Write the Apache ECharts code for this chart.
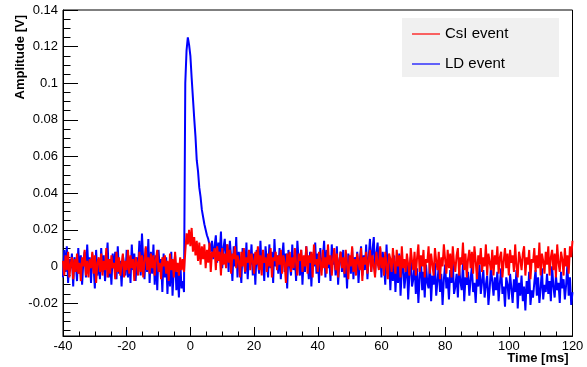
<!DOCTYPE html>
<html><head><meta charset="utf-8">
<script src="https://cdn.jsdelivr.net/npm/echarts@6/dist/echarts.min.js"></script>
<style>html,body{margin:0;padding:0;background:#fff}#c{width:587px;height:367px}</style>
</head><body><div id="c"></div>
<script>
// sampling grid of the waveforms (ms)
const sampleStart = -40;
const sampleStep = 0.4;
const seriesNames = ['CsI event', 'LD event'];
const xLabels = ['-40', '-20', '0', '20', '40', '60', '80', '100', '120'];
const yLabels = ['-0.02', '0', '0.02', '0.04', '0.06', '0.08', '0.1', '0.12', '0.14'];

// CsI event amplitude (mV), one value per sample
const csiValues = [
  3,-5,6,-2,8,-6,1,5,-7,4,
  -3,7,-4,2,-8,5,0,9,-5,3,
  -6,4,-1,8,-4,6,-9,2,5,-3,
  7,-5,3,-2,10,-6,4,-4,6,-1,
  2,-7,8,-3,5,-5,1,7,-6,3,
  -2,9,-4,6,-1,4,-8,5,2,-5,
  8,-3,6,-6,3,11,-2,5,-4,7,
  -1,6,-5,4,9,-3,2,-7,5,0,
  6,-4,3,-8,7,-2,4,-6,8,-3,
  2,-5,5,-2,4,-3,8,18,12,20,
  11,21,8,16,6,14,3,13,1,11,
  4,12,-1,9,2,13,-3,8,5,10,
  -2,11,3,8,-5,10,1,7,-1,12,
  2,9,-4,7,4,11,-1,6,3,-6,
  8,0,10,-3,5,2,9,-2,7,3,
  -4,8,1,11,-2,6,-5,9,2,5,
  -3,7,0,10,-6,5,3,8,-2,6,
  1,9,-4,6,2,-9,7,0,8,-3,
  5,-1,10,2,-5,7,3,9,-3,6,
  0,11,-4,6,2,8,-6,12,1,4,
  -3,8,2,-5,9,-1,5,-4,12,1,
  6,-5,4,10,-2,7,-6,3,8,-1,
  5,-4,9,1,-7,6,0,11,-3,4,
  -5,7,2,-2,10,-8,5,1,8,-4,
  3,9,-3,6,0,-6,8,2,-2,11,
  -1,5,-5,8,1,-7,7,4,-3,10,
  2,-4,9,0,6,-6,11,-1,4,-3,
  7,1,-5,10,3,-2,8,-5,5,12,
  -3,6,0,9,-6,4,2,11,-4,7,
  1,-5,10,3,-2,8,-7,5,0,12,
  4,-4,9,-1,7,-6,11,2,-3,6,
  10,-5,5,1,13,-2,7,-6,4,9,
  -1,8,-4,11,3,-7,6,1,10,-3,
  5,0,12,-5,7,2,-2,9,-5,6,
  1,11,-4,5,8,-6,3,10,-1,7,
  -5,9,2,6,-3,12,0,-6,8,4,
  -2,7,11,-5,5,1,9,-7,4,2,
  10,-3,6,-1,13,-5,7,3,-4,8,
  1,11,-5,5,9,-2,7,-6,12,2,
  -3,8,4,-5,10,0,6,-4,11,5,
  14
];

// LD event amplitude (mV), one value per sample
const ldValues = [
  -6,9,-3,11,-9,4,-1,7,-11,5,
  2,-8,10,-4,6,-10,3,8,-6,12,
  -2,5,-9,7,0,-12,9,-5,4,-7,
  10,-3,6,-8,2,13,-6,4,-10,7,
  -1,8,-7,11,-4,3,-11,6,1,-5,
  9,-6,4,-9,12,-2,7,-8,5,0,
  14,-5,18,3,-7,10,-3,15,-9,8,
  -4,12,-10,6,-13,9,-2,4,-14,7,
  -6,5,-15,2,-11,8,-16,-1,6,-13,
  -3,-17,4,-12,-8,-14,100,118,125,121,
  115,103,92,81,71,58,52,43,38,31,
  27,23,20,17,15,12,8,14,4,11,
  17,2,13,6,19,-1,10,15,3,12,
  -3,14,5,-8,11,0,16,-6,8,2,
  -9,10,4,-4,13,-7,6,1,12,-5,
  7,-10,9,2,-4,14,-2,5,-8,11,
  3,-6,12,-1,8,-9,15,0,6,-4,
  10,-7,4,13,-3,7,-12,9,1,-5,
  12,-2,6,-8,14,3,-5,9,-10,5,
  -3,11,2,-7,8,-11,6,0,13,-4,
  7,-9,10,-2,4,14,-6,9,-1,5,
  -8,12,1,6,-5,11,-10,3,8,-3,
  9,-6,4,-12,7,2,-4,10,-7,5,
  0,8,-9,3,11,-5,6,-2,12,-7,
  5,15,-3,9,16,-4,7,13,-1,10,
  -6,8,2,-10,12,-4,5,-13,3,-8,
  6,-14,1,-9,7,-16,-2,4,-12,-5,
  3,-18,-4,5,-11,-7,2,-15,-1,-20,
  -6,4,-13,-3,-17,1,-9,-12,3,-19,
  -5,-10,2,-16,-8,0,-14,-4,-21,-7,
  1,-12,-6,-18,-2,-9,3,-15,-11,-4,
  -17,-1,-8,-13,2,-19,-6,-10,-3,-16,
  -7,0,-14,-9,-20,-4,-11,1,-15,-8,
  -2,-17,-10,-5,-21,-12,0,-8,-16,-6,
  -13,-3,-19,-9,-1,-15,-11,-22,-6,-10,
  -18,-4,-12,-20,-7,-14,-2,-23,-9,-16,
  -5,-19,-11,-24,-8,-15,-3,-21,-13,-17,
  -9,-2,-16,-6,-20,-12,-1,-18,-10,-14,
  -4,-15,-8,-19,0,-11,-17,-5,-13,-9,
  -20,-3,-12,-7,-18,-10,1,-16,-6,-21,
  -14
];

const toPairs = vals => vals.map((v, i) => [sampleStart + i * sampleStep, v]);

const FONT = "'Liberation Sans', Arial, Helvetica, sans-serif";
const chart = echarts.init(document.getElementById('c'), null, {renderer: 'canvas'});
const yFmt = v => {
  const s = String(+(v / 1000).toFixed(3));
  return yLabels.indexOf(s) >= 0 && Math.abs(v % 20) < 1e-9 ? s : '';
};
const xFmt = v => { const s = String(v); return xLabels.indexOf(s) >= 0 ? s : ''; };

chart.setOption({
  animation: false,
  backgroundColor: '#ffffff',
  grid: {left: 63, right: 14.5, top: 10, bottom: 31, show: true, borderColor: '#000', borderWidth: 1, backgroundColor: 'transparent'},
  xAxis: {
    type: 'value', min: -40, max: 120, interval: 20,
    axisLine: {show: true, onZero: false, lineStyle: {color: '#000', width: 1}},
    axisTick: {show: true, inside: true, length: 9, lineStyle: {color: '#000'}},
    minorTick: {show: true, splitNumber: 4, length: 4.5, lineStyle: {color: '#000'}},
    axisLabel: {color: '#000', fontFamily: FONT, fontSize: 13, margin: 4, formatter: xFmt},
    splitLine: {show: false}, minorSplitLine: {show: false}
  },
  yAxis: [{
    type: 'value', min: -38, max: 140, splitNumber: 9,
    axisLine: {show: true, onZero: false, lineStyle: {color: '#000', width: 1}},
    axisTick: {show: true, inside: true, length: 15, lineStyle: {color: '#000'}},
    axisLabel: {color: '#000', fontFamily: FONT, fontSize: 13, margin: 5, formatter: yFmt, showMinLabel: true},
    splitLine: {show: false}
  }, {
    type: 'value', min: -38, max: 140, splitNumber: 36, position: 'left',
    axisLine: {show: false, onZero: false},
    axisTick: {show: true, inside: true, length: 7.5, lineStyle: {color: '#000'}},
    axisLabel: {show: false},
    splitLine: {show: false}
  }],
  legend: {
    data: seriesNames, orient: 'vertical', left: 407, top: 21, icon: 'rect', itemWidth: 28, itemHeight: 1.2,
    itemGap: 14, textStyle: {fontFamily: FONT, fontSize: 15, color: '#000', lineHeight: 16}
  },
  graphic: [
    {type: 'rect', z: -1, silent: true, shape: {x: 402, y: 18, width: 157, height: 59}, style: {fill: '#f0f0f0'}},
    {type: 'text', x: 20, y: 15, rotation: Math.PI / 2, style: {text: 'Amplitude [V]', font: "bold 13px 'Liberation Sans', Arial, sans-serif", fill: '#000', align: 'right', verticalAlign: 'middle'}},
    {type: 'text', x: 568.5, y: 358, style: {text: 'Time [ms]', font: "bold 13px 'Liberation Sans', Arial, sans-serif", fill: '#000', align: 'right', verticalAlign: 'middle'}}
  ],
  series: [
    {name: seriesNames[1], type: 'line', yAxisIndex: 0, data: toPairs(ldValues), showSymbol: false, symbol: 'none',
     lineStyle: {color: '#0000ff', width: 2}, itemStyle: {color: '#0000ff'}, sampling: null, z: 2},
    {name: seriesNames[0], type: 'line', yAxisIndex: 0, data: toPairs(csiValues), showSymbol: false, symbol: 'none',
     lineStyle: {color: '#ff0000', width: 2}, itemStyle: {color: '#ff0000'}, sampling: null, z: 3}
  ]
});
</script></body></html>
